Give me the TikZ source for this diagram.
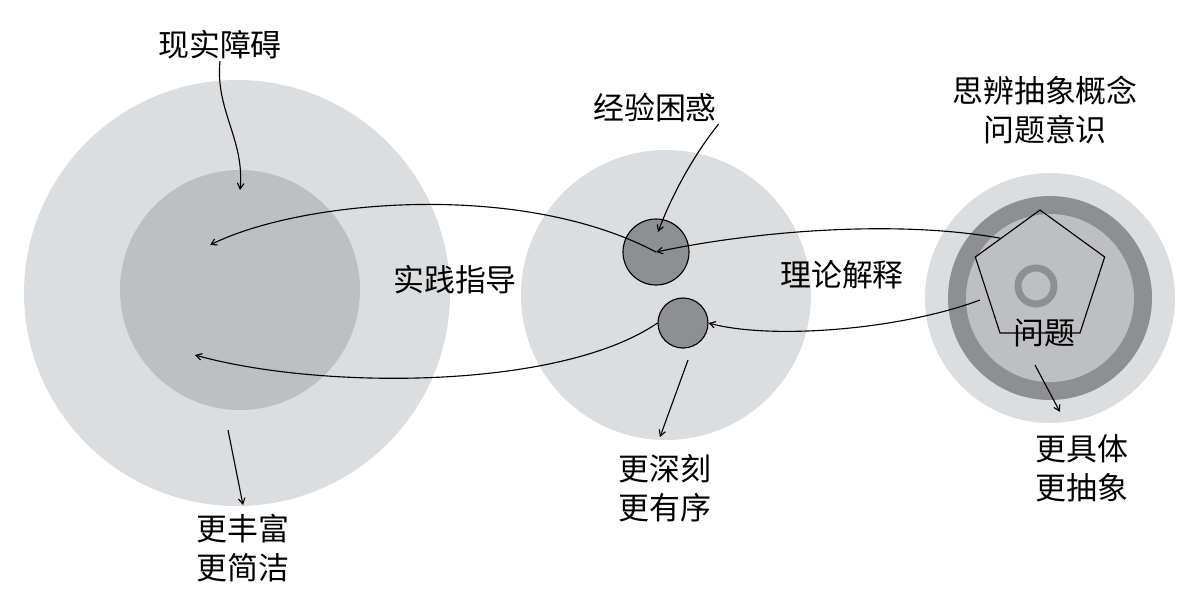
\documentclass[tikz,border=0pt]{standalone}
\usepackage{fontspec}
\setmainfont{Noto Sans CJK SC}
\usetikzlibrary{shapes.geometric,arrows}
\definecolor{palegray}{RGB}{220,221,223}
\definecolor{midgray}{RGB}{190,191,194}
\definecolor{darkgray}{RGB}{142,143,146}
\tikzset{
        txt/.style={font=\fontsize{22}{28}\selectfont, align=center, inner sep=1pt},
        line/.style={draw, thick, ->, >=angle 60},
        dot/.style={circle, draw, thick, fill=darkgray}
    }
\begin{document}
\begin{tikzpicture}[x=0.025cm, y=-0.025cm]
    \useasboundingbox (0,0) rectangle (1198,608);
    % circles
    \fill[palegray] (237,293) circle (213);
    \fill[midgray] (240,290) circle (120);
    \fill[palegray] (666,295) circle (145);
    \fill[palegray] (1050,298) circle (125);
    \fill[darkgray] (1050,298) circle (102);
    \fill[midgray] (1050,298) circle (84);
    \node[dot, minimum size=66*0.025cm] (D1) at (656,252) {};
    \node[dot, minimum size=50*0.025cm] (D2) at (683,323) {};
    \node[regular polygon, regular polygon sides=5, draw, thick, minimum size=136*0.025cm] (P) at (1040,278) {};
    \draw[darkgray, line width=5pt] (1036,286) circle (18);
    % texts
    \node[txt] (T1) at (220,45) {现实障碍};
    \node[txt] (T2) at (655,108) {经验困惑};
    \node[txt] (T3) at (1045,110) {思辨抽象概念\\问题意识};
    \node[txt] (G) at (455,280) {实践指导};
    \node[txt] (R) at (842,275) {理论解释};
    \node[txt] (Q) at (1044,333) {问题};
    \node[txt] (B1) at (243,548) {更丰富\\更简洁};
    \node[txt] (B2) at (665,488) {更深刻\\更有序};
    \node[txt] (B3) at (1082,468) {更具体\\更抽象};
    \coordinate (L1) at (210,245);
    \coordinate (L2) at (195,355);
    \coordinate (S1) at (228,430);
    \coordinate (S2) at (688,360);
    \coordinate (S3) at (1035,365);
    % connectors
    \draw[line] (T1.south) .. controls (215,110) and (245,140) .. (240,190);
    \draw[line] (T2.south east) .. controls (690,160) and (670,200) .. (658,232);
    \draw[line] (D1.center) .. controls (520,180) and (300,200) .. (L1);
    \draw[line] (D2.west) .. controls (560,390) and (320,390) .. (L2);
    \draw[line] (P.north west) .. controls (900,220) and (760,230) .. (D1.center);
    \draw[line] (980,300) .. controls (900,330) and (770,340) .. (D2.east);
    \draw[line] (S1) -- (243,505);
    \draw[line] (S2) -- (660,437);
    \draw[line] (S3) -- (1060,412);
\end{tikzpicture}
\end{document}
